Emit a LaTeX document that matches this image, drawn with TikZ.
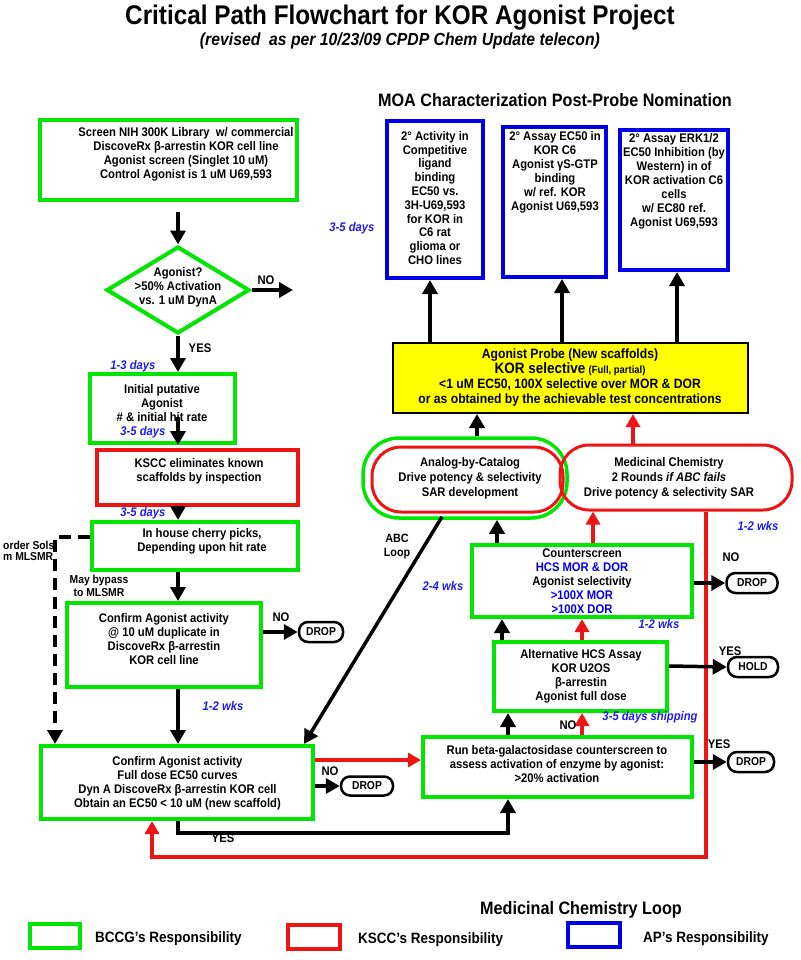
\documentclass[tikz,border=0pt]{standalone}
\usepackage{fontspec}
\setmainfont{Liberation Sans}[FakeStretch=0.9]
\usetikzlibrary{arrows.meta,calc,shapes.geometric}
\definecolor{gr}{RGB}{0,230,0}
\definecolor{rd}{RGB}{238,20,20}
\definecolor{bl}{RGB}{0,0,230}
\definecolor{dayc}{RGB}{30,30,230}
\definecolor{yl}{RGB}{255,255,0}
\tikzset{
  tx/.style={align=center, inner sep=0pt, font=\bfseries\fontsize{12.5}{14}\selectfont},
  lb/.style={inner sep=0pt, font=\bfseries\fontsize{12.5}{14}\selectfont},
  dy/.style={inner sep=0pt, text=dayc, font=\bfseries\itshape\fontsize{12.5}{14}\selectfont},
  gbox/.style={draw=gr, line width=4pt, inner sep=0pt},
  rbox/.style={draw=rd, line width=3.5pt, inner sep=0pt},
  bbox/.style={draw=bl, line width=4pt, inner sep=0pt},
  pill/.style={draw=black, line width=2.5pt, fill=white, rounded corners=9pt, inner sep=0pt, minimum height=20pt, font=\bfseries\fontsize{11.5}{13}\selectfont},
  arr/.style={draw=black, line width=3.5pt, -{Triangle[length=14pt,width=15pt]}},
  rarr/.style={draw=rd, line width=3.5pt, -{Triangle[length=13pt,width=14pt]}},
}
\begin{document}
\begin{tikzpicture}[x=1pt,y=-1pt]
\fill[white] (0,0) rectangle (800,960);
\useasboundingbox (0,0) rectangle (800,960);

% titles
\node[inner sep=0pt, font=\bfseries\fontsize{27}{30}\selectfont] (title) at (400,18) {Critical Path Flowchart for KOR Agonist Project};
\node[inner sep=0pt, font=\bfseries\itshape\fontsize{17.5}{20}\selectfont] (sub) at (400,41) {(revised\ \ as per 10/23/09 CPDP Chem Update telecon)};
\node[inner sep=0pt, font=\bfseries\fontsize{18}{20}\selectfont] (moa) at (555,100) {MOA Characterization Post-Probe Nomination};

% left column boxes
\node[gbox, minimum width=257pt, minimum height=80pt] (screen) at (168.5,160) {};
\node[tx] (screenT) at (186,154) {Screen NIH 300K Library\ \ w/ commercial\\DiscoveRx β-arrestin KOR cell line\\Agonist screen (Singlet 10 uM)\\Control Agonist is 1 uM U69,593};

\node[draw=gr, line width=4pt, diamond, minimum width=143pt, minimum height=87pt, inner sep=0pt] (diamond) at (178,290) {};
\node[tx] (diamondT) at (178,287) {Agonist?\\>50\% Activation\\vs. 1 uM DynA};
\coordinate (noend) at (293,290);

\node[gbox, minimum width=145pt, minimum height=69pt] (initial) at (162.5,408.5) {};
\node[tx] (initialT) at (162,403) {Initial putative\\Agonist\\\# \& initial hit rate};

\node[rbox, minimum width=201pt, minimum height=55pt] (kscc) at (197.5,477.5) {};
\node[tx] (ksccT) at (199,471) {KSCC eliminates known\\scaffolds by inspection};

\node[gbox, minimum width=206pt, minimum height=48pt] (cherry) at (195,546) {};
\node[tx] (cherryT) at (202,541.5) {In house cherry picks,\\Depending upon hit rate};

\node[gbox, minimum width=194pt, minimum height=84pt] (confirm1) at (164,645) {};
\node[tx] (confirm1T) at (164,639) {Confirm Agonist activity\\@ 10 uM duplicate in\\DiscoveRx β-arrestin\\KOR cell line};

\node[gbox, minimum width=272pt, minimum height=73pt] (confirm2) at (177,782.5) {};
\node[tx] (confirm2T) at (177.5,783) {Confirm Agonist activity\\Full dose EC50 curves\\Dyn A DiscoveRx β-arrestin KOR cell\\Obtain an EC50 < 10 uM (new scaffold)};

% right side boxes
\node[gbox, minimum width=269pt, minimum height=60pt] (betagal) at (557.5,767) {};
\node[tx] (betagalT) at (557,764) {Run beta-galactosidase counterscreen to\\assess activation of enzyme by agonist:\\>20\% activation};

\node[gbox, minimum width=173pt, minimum height=69pt] (alt) at (580.5,676.5) {};
\node[tx] (altT) at (581,676) {Alternative HCS Assay\\KOR U2OS\\β-arrestin\\Agonist full dose};

\node[gbox, minimum width=220pt, minimum height=72pt] (counter) at (582,581) {};
\node[tx] (counterT) at (582,581) {Counterscreen\\\textcolor{bl}{HCS MOR \& DOR}\\Agonist selectivity\\\textcolor{bl}{>100X MOR}\\\textcolor{bl}{>100X DOR}};

\node[draw=gr, line width=3.5pt, rounded corners=36pt, minimum width=204pt, minimum height=80pt, inner sep=0pt] (analogO) at (465,478) {};
\node[draw=rd, line width=3pt, rounded corners=29pt, minimum width=191pt, minimum height=65pt, inner sep=0pt] (analog) at (467.5,479.5) {};
\node[tx, font=\bfseries\fontsize{12.5}{15}\selectfont] (analogT) at (470,478) {Analog-by-Catalog\\Drive potency \& selectivity\\SAR development};

\node[draw=rd, line width=3pt, rounded corners=29pt, minimum width=232pt, minimum height=65pt, inner sep=0pt] (medchem) at (676,477.5) {};
\node[tx, font=\bfseries\fontsize{12.5}{15}\selectfont] (medchemT) at (669,478) {Medicinal Chemistry\\2 Rounds \textit{if ABC fails}\\Drive potency \& selectivity SAR};

\node[draw=black, line width=2pt, fill=yl, minimum width=355pt, minimum height=70pt, inner sep=0pt] (yellow) at (570.5,378) {};
\node[tx, font=\bfseries\fontsize{13.5}{15}\selectfont] (yellowT) at (570,378) {Agonist Probe (New scaffolds)\\{\fontsize{15}{15}\selectfont KOR selective} {\fontsize{10.5}{12}\selectfont (Full, partial)}\\<1 uM EC50, 100X selective over MOR \& DOR\\or as obtained by the achievable test concentrations};

\node[bbox, minimum width=96pt, minimum height=157pt] (blue1) at (435,199.5) {};
\node[tx, font=\bfseries\fontsize{12.5}{13.8}\selectfont] (blue1T) at (435,198) {2° Activity in\\Competitive\\ligand\\binding\\EC50 vs.\\3H-U69,593\\for KOR in\\C6 rat\\glioma or\\CHO lines};
\node[bbox, minimum width=103pt, minimum height=150pt] (blue2) at (554.5,202) {};
\node[tx, font=\bfseries\fontsize{12.5}{14}\selectfont] (blue2T) at (555,172) {2° Assay EC50 in\\KOR C6\\Agonist γS-GTP\\binding\\w/ ref. KOR\\Agonist U69,593};
\node[bbox, minimum width=108pt, minimum height=140pt] (blue3) at (674,200) {};
\node[tx, font=\bfseries\fontsize{12.5}{14}\selectfont] (blue3T) at (674,181) {2° Assay ERK1/2\\EC50 Inhibition (by\\Western) in of\\KOR activation C6\\cells\\w/ EC80 ref.\\Agonist U69,593};

% pills
\node[pill, minimum width=44pt] (drop1) at (321,632) {DROP};
\node[pill, minimum width=52pt, minimum height=19pt] (drop2) at (367,786) {DROP};
\node[pill, minimum width=46pt] (drop3) at (751,762) {DROP};
\node[pill, minimum width=50pt] (hold) at (753,667) {HOLD};
\node[pill, minimum width=51pt] (drop4) at (752,583) {DROP};

% connectors left column
\draw[arr] ($(screen.south)+(9.5,10)$) -- (diamond.north);
\draw[arr] (diamond.east) -- (noend);
\draw[arr] (diamond.south) -- (diamond.south |- initial.north);
\draw[arr] ($(initial.south)+(15.5,-28)$) -- ($(initial.south)+(15.5,0)$);
\draw[arr] ($(kscc.south)+(-19.5,0)$) -- ($(cherry.north)+(-17,0)$);
\draw[arr] ($(cherry.south)+(-17,0)$) -- ($(confirm1.north)+(14,0)$);
\draw[arr] ($(confirm1.east)+(0,-13)$) -- (drop1.west);
\draw[arr] ($(confirm1.south)+(14,0)$) -- ($(confirm2.north)+(1,0)$);
\draw[arr, dash pattern=on 12pt off 7pt] ($(cherry.west)+(0,-9)$) -| ($(confirm2.north)+(-122,0)$);
\draw[arr] ($(analogO.south)+(-23,-3)$) -- ($(confirm2.north east)+(-11,0)$);
\draw[rarr] ($(confirm2.east)+(0,-22.5)$) -- ($(betagal.west)+(0,-7)$);
\draw[arr] ($(confirm2.east)+(0,3.5)$) -- (drop2.west);
\draw[arr] ($(confirm2.south)+(1,0)$) -- ++(0,12) -| ($(betagal.south)+(-49.5,0)$);
\draw[rarr] ($(medchem.south)+(30,0)$) |- ($(confirm2.south)+(-25,36)$) -- ($(confirm2.south)+(-25,0)$);

% connectors right column
\draw[arr] ($(betagal.east)+(0,-5)$) -- (drop3.west);
\draw[arr] ($(betagal.north)+(-49.5,0)$) -- ($(alt.south)+(-72.5,0)$);
\draw[rarr] ($(betagal.north)+(24.5,0)$) -- ($(alt.south)+(1.5,0)$);
\draw[arr] ($(alt.east)+(0,-10.5)$) -- (hold.west);
\draw[arr] ($(alt.north)+(-78.5,0)$) -- ($(counter.south)+(-80,0)$);
\draw[rarr] ($(alt.north)+(1.5,0)$) -- (counter.south);
\draw[arr] ($(counter.east)+(0,2)$) -- (drop4.west);
\draw[arr] ($(counter.north)+(-85,0)$) -- ($(analogO.south)+(32,0)$);
\draw[rarr] ($(counter.north)+(11,0)$) -- ($(medchem.south)+(-83,0)$);
\draw[arr] ($(analogO.north)+(12,0)$) -- ($(yellow.south)+(-93.5,0)$);
\draw[rarr] ($(medchem.north)+(-43,0)$) -- ($(yellow.south)+(62.5,0)$);
\draw[arr] ($(yellow.north)+(-140.5,0)$) -- ($(blue1.south)+(-5,0)$);
\draw[arr] ($(yellow.north)+(-8.5,0)$) -- ($(blue2.south)+(7.5,0)$);
\draw[arr] ($(yellow.north)+(106.5,0)$) -- ($(blue3.south)+(3,0)$);

% labels
\node[lb] (l1) at (266,280) {NO};
\node[lb] (l2) at (200,348) {YES};
\node[lb] (l3) at (281,617) {NO};
\node[lb] (l4) at (330,771) {NO};
\node[lb] (l5) at (223,838) {YES};
\node[lb] (l6) at (719,744) {YES};
\node[lb] (l7) at (730,651) {YES};
\node[lb] (l8) at (568,725) {NO};
\node[lb] (l9) at (731,557) {NO};
\node[lb, align=center, font=\bfseries\fontsize{12}{14}\selectfont] (abc) at (397,547) {ABC\\Loop};
\node[lb, align=center, font=\bfseries\fontsize{11.5}{13}\selectfont] (bypass) at (99,586) {May bypass\\to MLSMR};
\node[lb, anchor=west, font=\bfseries\fontsize{11.5}{12}\selectfont] (ord1) at (3,545) {order Sols};
\node[lb, anchor=west, font=\bfseries\fontsize{11.5}{12}\selectfont] (ord2) at (3,557) {m MLSMR};

\node[dy] (d1) at (133,366) {1-3 days};
\node[dy] (d2) at (143,432) {3-5 days};
\node[dy] (d3) at (143,513) {3-5 days};
\node[dy] (d4) at (223,706) {1-2 wks};
\node[dy] (d5) at (443,586) {2-4 wks};
\node[dy] (d6) at (659,624) {1-2 wks};
\node[dy] (d7) at (650,717) {3-5 days shipping};
\node[dy] (d8) at (758,526) {1-2 wks};
\node[dy] (d9) at (352,228) {3-5 days};

% legend
\node[inner sep=0pt, font=\bfseries\fontsize{18}{20}\selectfont] (mcl) at (581,910) {Medicinal Chemistry Loop};
\node[gbox, minimum width=50pt, minimum height=24pt] (lg) at (55,936) {};
\node[lb, anchor=west, font=\bfseries\fontsize{15}{17}\selectfont] (lgT) at (95,939) {BCCG's Responsibility};
\node[rbox, line width=4pt, minimum width=52pt, minimum height=24pt] (lr) at (314,937) {};
\node[lb, anchor=west, font=\bfseries\fontsize{15}{17}\selectfont] (lrT) at (358,940) {KSCC's Responsibility};
\node[bbox, minimum width=52pt, minimum height=24pt] (lbx) at (594,935) {};
\node[lb, anchor=west, font=\bfseries\fontsize{15}{17}\selectfont] (lbT) at (643,939) {AP's Responsibility};
\end{tikzpicture}
\end{document}
